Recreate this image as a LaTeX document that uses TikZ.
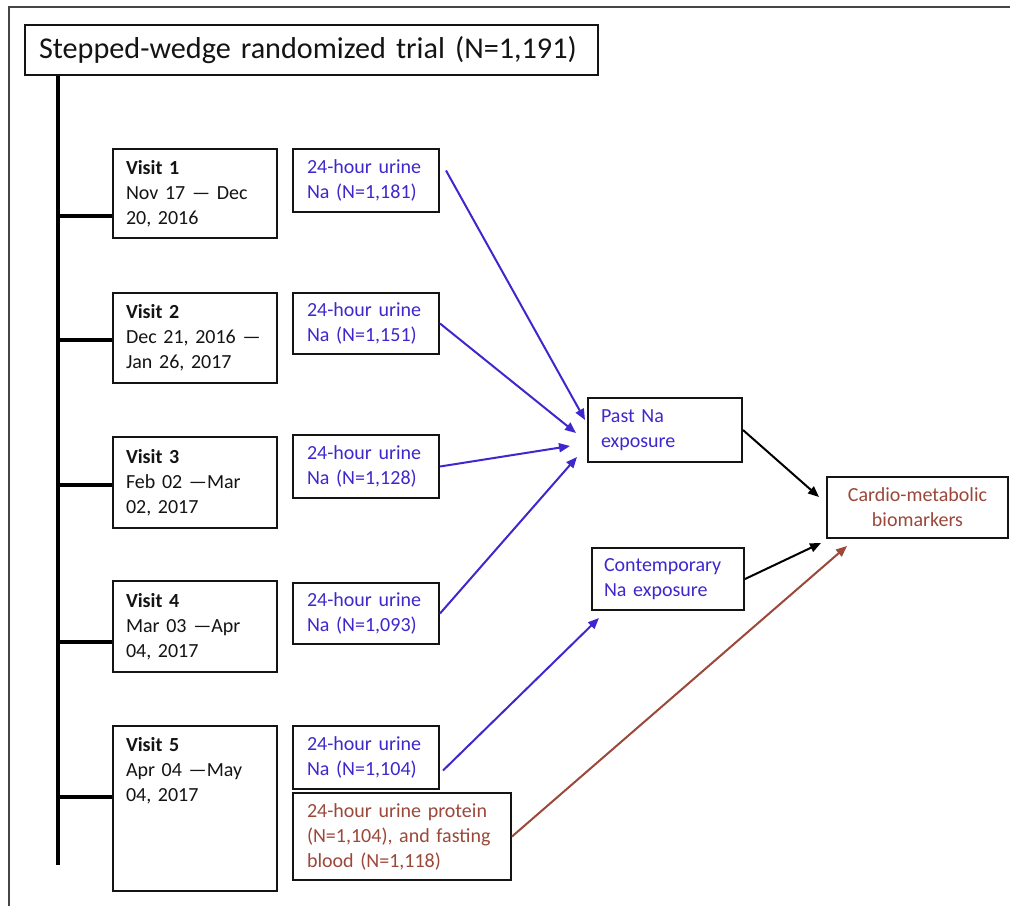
\documentclass[tikz,border=0pt]{standalone}
\usepackage{fontspec}
\setmainfont{Carlito}
\usetikzlibrary{arrows.meta}
\definecolor{nablue}{RGB}{62,40,205}
\definecolor{nabrown}{RGB}{155,72,58}
\definecolor{framegray}{RGB}{70,70,70}
\definecolor{ink}{RGB}{20,20,20}
\begin{document}
\begin{tikzpicture}[x=1pt,y=-1pt,
  box/.style={draw=ink, line width=2pt, anchor=north west, inner xsep=13pt, inner ysep=0pt,
              align=left, font=\fontsize{20}{25}\selectfont, text=ink},
  visit/.style={box, text width=138pt},
  urine/.style={box, inner xsep=14pt, text width=118pt, text=nablue},
  bar/.style={draw=black, line width=4.5pt},
  barrow/.style={draw=nablue, line width=2pt, -{Triangle[length=11pt,width=9pt]}, fill=nablue},
  karrow/.style={draw=black, line width=2pt, -{Triangle[length=11pt,width=9pt]}},
  rarrow/.style={draw=nabrown, line width=2pt, -{Triangle[length=11pt,width=9pt]}}
]
\useasboundingbox (0,0) rectangle (1010,906);
\fill[white] (0,0) rectangle (1010,906);
% outer frame (partly cropped)
\draw[framegray, line width=1.5pt] (9,906) -- (9,7) -- (1010,7);

% title
\node[box, inner xsep=14pt, text width=545pt, minimum height=50pt,
      font=\fontsize{30.2}{36}\selectfont] (title) at (24,24) {Stepped-wedge randomized trial (N=1,191)};

% visits
\node[visit, minimum height=89pt] (v1) at (112,148) {\textbf{Visit 1}\\Nov 17 — Dec\\20, 2016};
\node[visit, minimum height=90pt] (v2) at (112,292) {\textbf{Visit 2}\\Dec~21,~2016~—\\Jan 26, 2017};
\node[visit, minimum height=91pt] (v3) at (112,436) {\textbf{Visit 3}\\Feb 02 —Mar\\02, 2017};
\node[visit, minimum height=91pt] (v4) at (112,580) {\textbf{Visit 4}\\Mar 03 —Apr\\04, 2017};
\node[visit, minimum height=165pt] (v5) at (112,725) {};
\node[visit, draw=none, minimum height=89pt] (v5t) at (112,725) {\textbf{Visit 5}\\Apr 04 —May\\04, 2017};

% urine boxes
\node[urine, minimum height=63pt] (u1) at (292,148) {24-hour urine\\Na (N=1,181)};
\node[urine, minimum height=61pt] (u2) at (292,292) {24-hour urine\\Na (N=1,151)};
\node[urine, minimum height=63pt] (u3) at (292,434) {24-hour urine\\Na (N=1,128)};
\node[urine, minimum height=61pt] (u4) at (292,582) {24-hour urine\\Na (N=1,093)};
\node[urine, minimum height=63pt] (u5) at (292,725) {24-hour urine\\Na (N=1,104)};
\node[box, inner xsep=14pt, text width=190pt, minimum height=87pt, text=nabrown] (prot) at (292,792)
  {24-hour urine protein\\(N=1,104), and fasting\\blood (N=1,118)};

% exposures and outcome
\node[box, text width=128pt, minimum height=64pt, text=nablue] (past) at (587,397) {Past Na\\exposure};
\node[box, inner xsep=12pt, text width=128pt, minimum height=62pt, text=nablue] (cont) at (591,547) {Contemporary\\Na exposure};
\node[box, align=center, text width=155pt, minimum height=61pt, text=nabrown] (card) at (826,476) {Cardio-metabolic\\biomarkers};

% timeline
\coordinate (barend) at (58,865);
\draw[bar] (title.south -| barend) -- (barend);
\coordinate (k1) at (58,216);
\coordinate (k2) at (58,340);
\coordinate (k3) at (58,485);
\coordinate (k4) at (58,642);
\coordinate (k5) at (58,797);
\draw[bar] (k1) -- (k1 -| v1.west);
\draw[bar] (k2) -- (k2 -| v2.west);
\draw[bar] (k3) -- (k3 -| v3.west);
\draw[bar] (k4) -- (k4 -| v4.west);
\draw[bar] (k5) -- (k5 -| v5.west);

% arrow ends
\coordinate (e1) at (585,420);
\coordinate (e2) at (576,433);
\coordinate (e3) at (570,446);
\coordinate (e4) at (577,457);
\coordinate (e5) at (599,618);
\coordinate (e6) at (819,497);
\coordinate (e7) at (821,543);
\coordinate (e8) at (847,546);

\draw[barrow] ([shift={(6,-10)}]u1.east) -- (e1);
\draw[barrow] (u2.east) -- (e2);
\draw[barrow] (u3.east) -- (e3);
\draw[barrow] (u4.east) -- (e4);
\draw[barrow] ([shift={(3,13)}]u5.east) -- (e5);
\draw[karrow] (past.east) -- (e6);
\draw[karrow] (cont.east) -- (e7);
\draw[rarrow] (prot.east) -- (e8);
\end{tikzpicture}
\end{document}
